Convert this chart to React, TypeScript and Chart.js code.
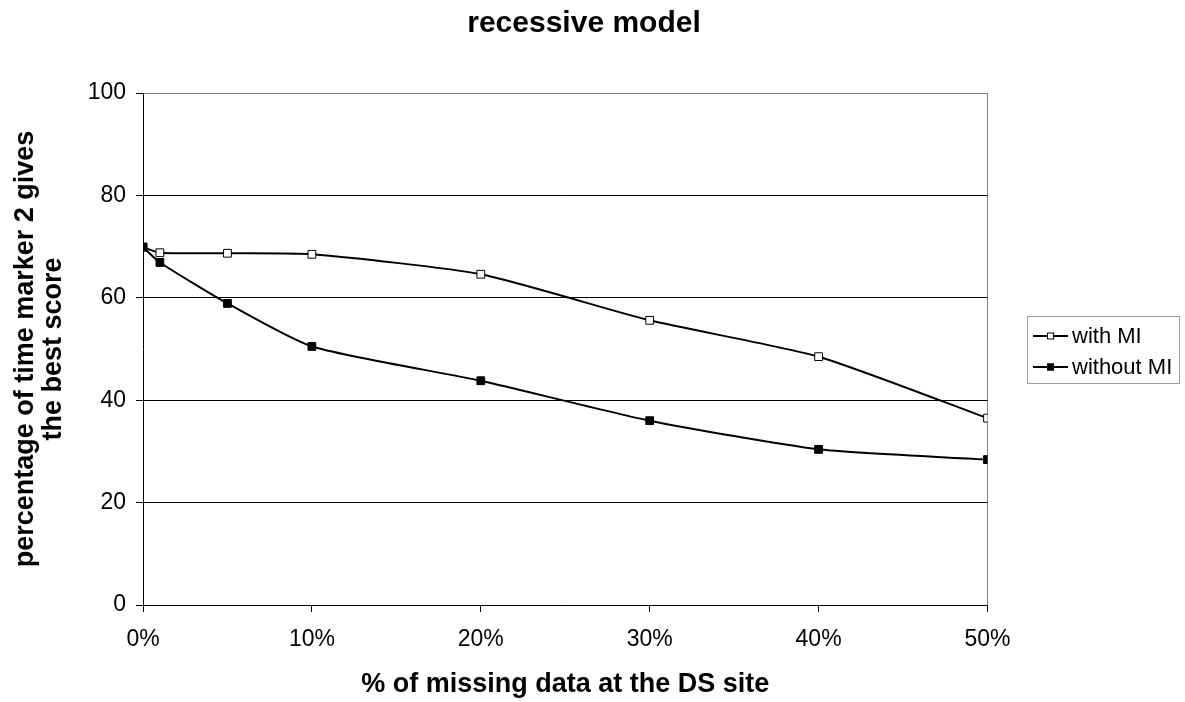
import React, { useEffect, useRef } from 'react';
import { Chart, registerables } from 'chart.js';

Chart.register(...registerables);

const TITLE = 'recessive model';
const X_TITLE = '% of missing data at the DS site';
const Y_TITLE = ['percentage of time marker 2 gives', 'the best score'];

const missingPct = [0, 1, 5, 10, 20, 30, 40, 50];
const withMI = [69.9, 68.8, 68.7, 68.5, 64.6, 55.6, 48.5, 36.5];
const withoutMI = [69.9, 66.9, 58.9, 50.5, 43.8, 36.0, 30.4, 28.4];
const SERIES_LABELS = ['with MI', 'without MI'];

const Y_MIN = 0;
const Y_MAX = 100;
const Y_STEP = 20;
const X_MIN = 0;
const X_MAX = 50;
const X_STEP = 10;

const FONT = '"Liberation Sans", Arial, Helvetica, sans-serif';

const titlePlugin = {
  id: 'customTitle',
  afterDraw(chart: any) {
    const ctx = chart.ctx;
    ctx.save();
    ctx.font = `bold 30px ${FONT}`;
    ctx.fillStyle = '#000';
    ctx.textAlign = 'center';
    ctx.textBaseline = 'middle';
    ctx.fillText(TITLE, 584, 24);
    ctx.restore();
  },
};

const legendPlugin = {
  id: 'boxLegend',
  afterDraw(chart: any) {
    const ctx = chart.ctx;
    const x0 = 1027;
    const y0 = 316;
    const w = 152;
    const h = 67;
    ctx.save();
    ctx.fillStyle = '#fff';
    ctx.fillRect(x0, y0, w, h);
    ctx.strokeStyle = '#a0a0a0';
    ctx.lineWidth = 1;
    ctx.strokeRect(x0 + 0.5, y0 + 0.5, w, h);
    chart.data.datasets.forEach((ds: any, i: number) => {
      const cy = 336 + i * 31;
      ctx.beginPath();
      ctx.moveTo(1033, cy);
      ctx.lineTo(1068, cy);
      ctx.strokeStyle = '#000';
      ctx.lineWidth = 2;
      ctx.stroke();
      ctx.fillStyle = ds.pointBackgroundColor;
      ctx.fillRect(1047, cy - 3.5, 7, 7);
      ctx.lineWidth = 1;
      ctx.strokeRect(1047.5, cy - 3, 6, 6);
      ctx.fillStyle = '#000';
      ctx.font = `22px ${FONT}`;
      ctx.textAlign = 'left';
      ctx.textBaseline = 'middle';
      ctx.fillText(ds.label, 1072, cy + 1);
    });
    ctx.restore();
  },
};

export default function App() {
  const canvasRef = useRef<HTMLCanvasElement | null>(null);

  useEffect(() => {
    const canvas = canvasRef.current;
    if (!canvas) return;
    const chart = new Chart(canvas, {
      type: 'line',
      data: {
        datasets: [
          {
            label: SERIES_LABELS[0],
            data: missingPct.map((x, i) => ({ x, y: withMI[i] })),
            borderColor: '#000',
            borderWidth: 2,
            pointStyle: 'rect',
            pointRadius: 5.5,
            pointBorderWidth: 1,
            pointBackgroundColor: '#fff',
            pointBorderColor: '#000',
            tension: 0.2,
            fill: false,
            order: 2,
          },
          {
            label: SERIES_LABELS[1],
            data: missingPct.map((x, i) => ({ x, y: withoutMI[i] })),
            borderColor: '#000',
            borderWidth: 2,
            pointStyle: 'rect',
            pointRadius: 5.5,
            pointBorderWidth: 1,
            pointBackgroundColor: '#000',
            pointBorderColor: '#000',
            tension: 0.2,
            fill: false,
            order: 1,
          },
        ],
      },
      options: {
        responsive: false,
        animation: false,
        devicePixelRatio: 1,
        layout: { padding: { left: 0, right: 197.5, top: 93, bottom: 0 } },
        plugins: {
          legend: { display: false },
          title: { display: false },
          tooltip: { enabled: false },
        },
        scales: {
          x: {
            type: 'linear',
            min: X_MIN,
            max: X_MAX,
            afterFit: (s: any) => {
              s.height = 97;
            },
            ticks: {
              stepSize: X_STEP,
              color: '#000',
              font: { family: FONT, size: 23 },
              padding: 14,
              callback: (v: any) => `${v}%`,
            },
            grid: {
              color: (c: any) => (c.tick && c.tick.value === X_MAX ? '#808080' : 'rgba(0,0,0,0)'),
              tickColor: '#000',
              tickLength: 7,
              drawOnChartArea: true,
            },
            border: { color: '#000', width: 1 },
            title: {
              display: true,
              text: X_TITLE,
              color: '#000',
              font: { family: FONT, size: 27, weight: 'bold' },
              padding: { top: 0, bottom: 1 },
            },
          },
          y: {
            type: 'linear',
            min: Y_MIN,
            max: Y_MAX,
            afterFit: (s: any) => {
              s.width = 143;
            },
            ticks: {
              stepSize: Y_STEP,
              color: '#000',
              font: { family: FONT, size: 23 },
              padding: 10,
            },
            grid: {
              color: (c: any) => (c.tick && c.tick.value === Y_MAX ? '#808080' : '#000'),
              tickColor: '#000',
              tickLength: 7,
            },
            border: { color: '#000', width: 1 },
            title: {
              display: true,
              text: Y_TITLE,
              color: '#000',
              font: { family: FONT, size: 27, weight: 'bold', lineHeight: 1.037 },
              padding: { top: 12, bottom: 0 },
            },
          },
        },
      },
      plugins: [titlePlugin, legendPlugin],
    } as any);
    return () => chart.destroy();
  }, []);

  return (
    <div style={{ position: 'fixed', left: 0, top: 0, width: 1185, height: 702, background: '#fff' }}>
      <canvas ref={canvasRef} width={1185} height={702} style={{ display: 'block' }} />
    </div>
  );
}
